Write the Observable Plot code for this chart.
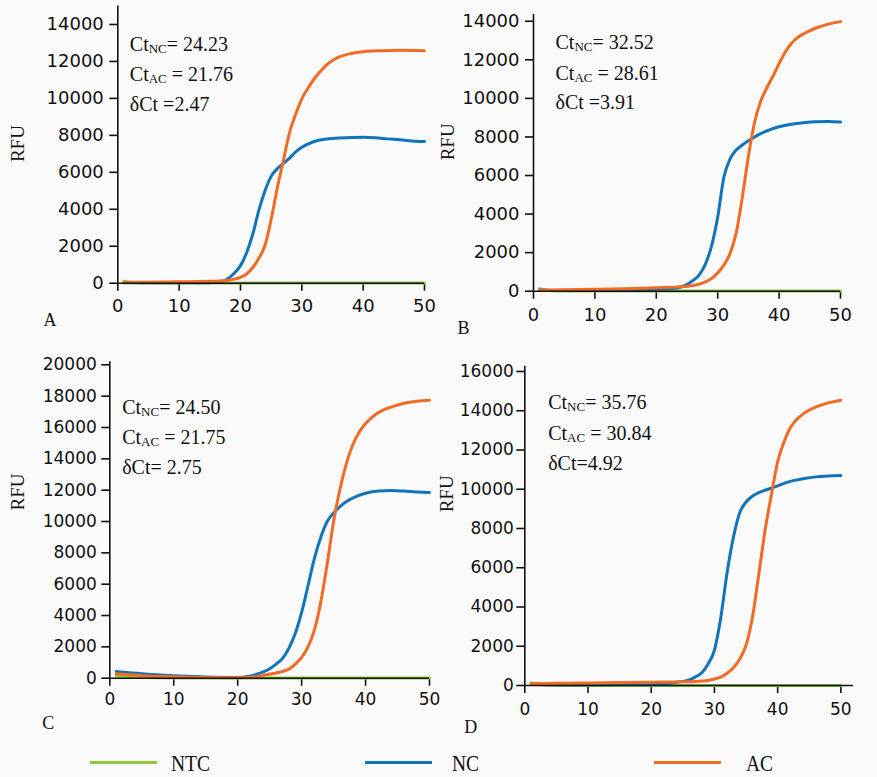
<!DOCTYPE html>
<html><head><meta charset="utf-8">
<script src="https://cdn.jsdelivr.net/npm/d3@7"></script>
<script src="https://cdn.jsdelivr.net/npm/@observablehq/plot@0.6"></script>
<style>
html,body{margin:0;padding:0;background:#fafafa;}
#root{position:relative;width:877px;height:777px;overflow:hidden;background:#fafafa;}
.panel{position:absolute;}
.panel svg{display:block;}
.leg-line{position:absolute;height:3px;}
.leg-text{position:absolute;font-family:"Liberation Serif","Times New Roman",serif;font-size:23px;color:#111;transform:scaleX(0.85);transform-origin:left center;line-height:1;}
</style></head><body><div id="root"></div>
<script>
// ---------------- data (cycle, RFU) ----------------
const SERIES = ["NTC", "NC", "AC"];
const COLORS = ["#8dc63f", "#1174bb", "#f26b24"];

const A_NTC = [[1,110],[2,50],[3,20],[4,10],[8,5],[20,5],[30,5],[40,5],[50,5]];
const A_NC  = [[1,30],[5,20],[10,20],[15,30],[16,50],[17,100],[18,250],[19,550],[20,950],[21,1650],[22,2650],[23,3950],[24,5000],[25,5780],[26,6200],[27,6480],[28,6770],[29,7100],[30,7350],[32,7670],[34,7800],[36,7860],[38,7880],[40,7900],[42,7870],[44,7810],[46,7760],[48,7700],[50,7670]];
const A_AC  = [[1,40],[5,55],[10,75],[15,100],[17,130],[18,160],[19,220],[20,320],[21,500],[22,850],[23,1350],[24,2050],[25,3450],[26,5150],[27,6650],[28,8150],[29,9150],[30,9980],[31,10550],[32,11050],[33,11450],[34,11800],[35,12050],[36,12230],[38,12430],[40,12530],[43,12580],[46,12600],[50,12580]];

const B_NTC = [[1,130],[2,60],[3,25],[5,10],[10,5],[20,5],[30,5],[40,5],[50,5]];
const B_NC  = [[1,60],[5,30],[10,40],[15,60],[20,100],[23,150],[24,220],[25,350],[26,560],[27,850],[28,1400],[29,2350],[30,3850],[31,5900],[32,6850],[33,7320],[34,7580],[35,7800],[36,8000],[37,8170],[38,8320],[40,8530],[42,8660],[44,8740],[46,8790],[48,8800],[50,8770]];
const B_AC  = [[1,50],[5,70],[10,100],[15,130],[20,180],[24,230],[26,300],[27,370],[28,480],[29,660],[30,950],[31,1350],[32,1950],[33,3000],[34,4850],[35,7000],[36,8750],[37,9850],[38,10550],[39,11150],[40,11800],[41,12400],[42,12850],[43,13150],[44,13350],[46,13650],[48,13850],[50,13980]];

const C_NTC = [[1,140],[3,100],[5,60],[8,25],[12,8],[20,5],[30,5],[40,5],[50,5]];
const C_NC  = [[1,430],[3,350],[5,290],[8,200],[10,150],[15,80],[20,50],[22,150],[23,250],[24,400],[25,600],[26,900],[27,1250],[28,1900],[29,2850],[30,4200],[31,5900],[32,7650],[33,9000],[34,10000],[35,10550],[36,10950],[37,11280],[38,11500],[40,11800],[42,11950],[44,11980],[46,11940],[48,11880],[50,11850]];
const C_AC  = [[1,280],[3,220],[5,160],[8,110],[10,90],[15,40],[20,25],[23,100],[24,180],[25,250],[26,330],[27,430],[28,570],[29,900],[30,1330],[31,2000],[32,3080],[33,4870],[34,7300],[35,10000],[36,12060],[37,13700],[38,14900],[39,15700],[40,16250],[41,16650],[42,16950],[43,17150],[44,17300],[46,17550],[48,17680],[50,17740]];

const D_NTC = [[1,130],[2,60],[3,25],[5,10],[10,5],[20,5],[30,5],[40,5],[50,5]];
const D_NC  = [[1,60],[5,40],[10,40],[15,50],[20,70],[23,120],[24,160],[25,210],[26,280],[27,440],[28,650],[29,1100],[30,1800],[31,3450],[32,5750],[33,7550],[34,8800],[35,9350],[36,9650],[37,9830],[38,9950],[40,10170],[42,10400],[44,10530],[46,10630],[48,10680],[50,10700]];
const D_AC  = [[1,100],[5,110],[10,130],[15,150],[20,170],[25,190],[27,210],[29,260],[30,330],[31,430],[32,620],[33,900],[34,1350],[35,2050],[36,3450],[37,5630],[38,7880],[39,9700],[40,11400],[41,12400],[42,13130],[43,13550],[44,13830],[46,14180],[48,14400],[50,14540]];

const X_TICKS = [0, 10, 20, 30, 40, 50];
const Y_TICKS_A = [0, 2000, 4000, 6000, 8000, 10000, 12000, 14000];
const Y_TICKS_B = [0, 2000, 4000, 6000, 8000, 10000, 12000, 14000];
const Y_TICKS_C = [0, 2000, 4000, 6000, 8000, 10000, 12000, 14000, 16000, 18000, 20000];
const Y_TICKS_D = [0, 2000, 4000, 6000, 8000, 10000, 12000, 14000, 16000];

const NOTES_A = ["Ct_NC= 24.23", "Ct_AC = 21.76", "\u03b4Ct =2.47"];
const NOTES_B = ["Ct_NC= 32.52", "Ct_AC = 28.61", "\u03b4Ct =3.91"];
const NOTES_C = ["Ct_NC= 24.50", "Ct_AC = 21.75", "\u03b4Ct= 2.75"];
const NOTES_D = ["Ct_NC= 35.76", "Ct_AC = 30.84", "\u03b4Ct=4.92"];
const PANEL_LETTERS = ["A", "B", "C", "D"];
const Y_LABEL = "RFU";

// ---------------- drawing ----------------
const SERIF = "'Liberation Serif','Times New Roman',serif";
const root = document.getElementById("root");

function toRows(pairs) {
  const rows = [];
  pairs.forEach((pts, k) => pts.forEach(([c, v]) => rows.push({series: SERIES[k], cycle: c, rfu: v})));
  return rows;
}

function panel(cfg) {
  const rows = toRows(cfg.series);
  const fs = cfg.fontSize;
  const chart = Plot.plot({
    width: cfg.width, height: cfg.height,
    marginLeft: cfg.m[0], marginRight: cfg.m[1], marginTop: cfg.m[2], marginBottom: cfg.m[3],
    x: {domain: cfg.xDomain},
    y: {domain: cfg.yDomain},
    color: {domain: SERIES, range: COLORS},
    style: {background: "transparent", fontFamily: "'DejaVu Sans', sans-serif", fontSize: fs + "px", color: "#111", overflow: "visible"},
    marks: [
      Plot.axisX({ticks: X_TICKS, tickSize: 8, tickPadding: cfg.xPad, tickFormat: d => String(d), label: null, strokeWidth: 1.6, stroke: "#111", fill: "#111"}),
      Plot.axisY({ticks: cfg.yTicks, tickSize: 8, tickPadding: cfg.yPad, tickFormat: d => String(d), label: null, strokeWidth: 1.6, stroke: "#111", fill: "#111"}),
      Plot.line(rows, {x: "cycle", y: "rfu", z: "series", stroke: "series", strokeWidth: 3, curve: "monotone-x"}),
      Plot.ruleY([0], {stroke: "#111", strokeWidth: 1.6}),
      Plot.ruleX([0], {stroke: "#111", strokeWidth: 1.6}),
      ...cfg.notes.map((t, i) => Plot.text([t], {text: d => d, frameAnchor: "top-left", textAnchor: "start", lineAnchor: "bottom",
        dx: cfg.noteDx, dy: cfg.noteDy[i], fontFamily: SERIF, fontSize: 20, fill: "#111"})),
      Plot.text([Y_LABEL], {text: d => d, frameAnchor: "left", rotate: -90, textAnchor: "middle", lineAnchor: "middle",
        dx: cfg.labDx, dy: cfg.labDy, fontFamily: SERIF, fontSize: 19, fill: "#111"}),
      Plot.text([cfg.letter], {text: d => d, frameAnchor: "bottom-left", textAnchor: "start", lineAnchor: "bottom",
        dx: cfg.letDx, dy: cfg.letDy, fontFamily: SERIF, fontSize: 18, fill: "#111"})
    ]
  });
  // subscripts for Ct_NC / Ct_AC
  d3.select(chart).selectAll("text").each(function () {
    const m = /^Ct_(NC|AC)(.*)$/.exec(this.textContent);
    if (!m) return;
    this.textContent = "";
    const s = d3.select(this);
    s.append("tspan").text("Ct");
    s.append("tspan").attr("font-size", 13).attr("dy", 2).text(m[1]);
    s.append("tspan").attr("dy", -2).text(m[2]);
  });
  const div = document.createElement("div");
  div.className = "panel";
  div.style.left = cfg.left + "px";
  div.style.top = cfg.top + "px";
  div.appendChild(chart);
  root.appendChild(div);
}

panel({left: 0, top: 0, width: 437, height: 340, m: [117.3, 13, 5.5, 57.3],
  xDomain: [0, 50], yDomain: [0, 15000], yTicks: Y_TICKS_A, fontSize: 18, xPad: 8, yPad: 6,
  series: [A_NTC, A_NC, A_AC], notes: NOTES_A, noteDx: 12, noteDy: [44.5, 74.5, 104.5],
  labDx: -100, labDy: -1, letter: PANEL_LETTERS[0], letDx: -74.3, letDy: 42.8});

panel({left: 437, top: 0, width: 440, height: 340, m: [96, 37, 14, 49.3],
  xDomain: [0, 50], yDomain: [0, 14350], yTicks: Y_TICKS_B, fontSize: 18, xPad: 9, yPad: 6,
  series: [B_NTC, B_NC, B_AC], notes: NOTES_B, noteDx: 22, noteDy: [34.3, 65, 94.3],
  labDx: -86, labDy: -11, letter: PANEL_LETTERS[1], letDx: -76, letDy: 42.6});

panel({left: 0, top: 345, width: 437, height: 400, m: [109.3, 8, 16.2, 67.3],
  xDomain: [0, 50], yDomain: [0, 20200], yTicks: Y_TICKS_C, fontSize: 17, xPad: 7, yPad: 5,
  series: [C_NTC, C_NC, C_AC], notes: NOTES_C, noteDx: 12.4, noteDy: [52, 82, 112],
  labDx: -92, labDy: -28, letter: PANEL_LETTERS[2], letDx: -67.6, letDy: 50.6});

panel({left: 437, top: 345, width: 440, height: 400, m: [87.3, 24, 20.7, 60],
  xDomain: [0, 52], yDomain: [0, 16270], yTicks: Y_TICKS_D, fontSize: 17, xPad: 9, yPad: 3,
  series: [D_NTC, D_NC, D_AC], notes: NOTES_D, noteDx: 23.4, noteDy: [42.6, 73.3, 103.3],
  labDx: -77.6, labDy: -32, letter: PANEL_LETTERS[3], letDx: -60.6, letDy: 47.7});

// legend below the panels
const LEG_LINE_X = [89.5, 365, 654];
const LEG_TEXT_X = [170.5, 452, 746];
SERIES.forEach((name, i) => {
  const ln = document.createElement("div");
  ln.className = "leg-line";
  ln.style.left = LEG_LINE_X[i] + "px";
  ln.style.width = "67px";
  ln.style.top = "760.5px";
  ln.style.background = COLORS[i];
  root.appendChild(ln);
  const tx = document.createElement("div");
  tx.className = "leg-text";
  tx.style.left = LEG_TEXT_X[i] + "px";
  tx.style.top = "752px";
  tx.textContent = name;
  root.appendChild(tx);
});
</script></body></html>
